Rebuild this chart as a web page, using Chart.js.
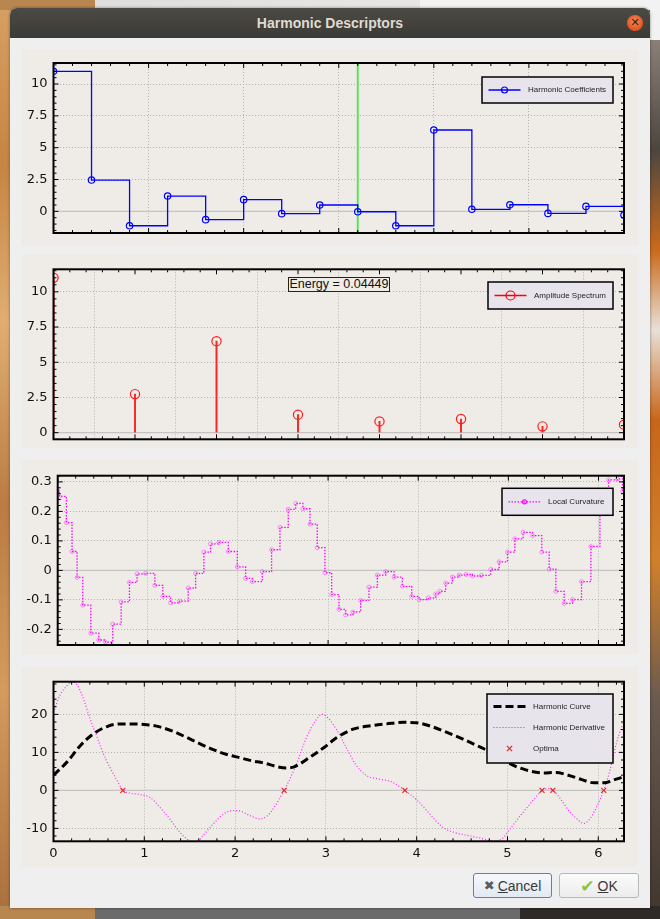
<!DOCTYPE html>
<html lang="en">
<head>
<meta charset="UTF-8">
<title>Harmonic Descriptors</title>
<script src="https://cdn.jsdelivr.net/npm/chart.js"></script>
<style>
  body { margin:0; width:660px; height:919px; position:relative; overflow:hidden; background:#6a5a4c; font-family:"Liberation Sans", Arial, sans-serif; }
  .abs { position:absolute; }
  #deskLeft { left:0; top:0; width:11px; height:919px; background:linear-gradient(180deg,#d7a063 0%,#c58543 18%,#e0ae72 35%,#b97c42 55%,#d39b5e 75%,#a86f3d 100%); }
  #deskTop { left:0; top:0; width:660px; height:10px; background:linear-gradient(90deg,#b8864f 0,#b8864f 95px,#dedede 95px,#e6e6e6 420px,#f3f3f3 420px); }
  #deskRight { left:650px; top:0; width:10px; height:919px; background:linear-gradient(180deg,#f2f2f2 0,#f2f2f2 40px,#8a8078 40px,#4c4640 150px,#c96a1c 250px,#e8e0d8 330px,#c7661a 420px,#d0802c 560px,#6a5a50 700px,#40362e 919px); }
  #deskBottom { left:0; top:906px; width:660px; height:13px; background:linear-gradient(90deg,#b8864f 0,#b8864f 95px,#6b6b6b 95px,#6b6b6b 520px,#2e2a28 520px); }
  #dialog { left:10px; top:8px; width:640px; height:900px; background:#efefef; border-radius:7px 7px 0 0; box-shadow:0 0 3px rgba(0,0,0,0.45); }
  #titlebar { left:10px; top:8px; width:640px; height:30px; border-radius:7px 7px 0 0; background:linear-gradient(#4b4a45,#3b3a36); color:#dfdbd2; font:bold 14px "Liberation Sans", Arial, sans-serif; text-align:center; line-height:30px; }
  #closeBtn { left:627px; top:15px; width:16px; height:16px; border-radius:50%; background:radial-gradient(circle at 50% 40%,#f58a5c,#e1541f 70%,#c7461a); color:#3a1a0a; font:bold 11px "DejaVu Sans", sans-serif; line-height:16px; text-align:center; }
  .panel { left:21px; width:617px; background:#efece8; }
  .panel canvas { display:block; }
  #energy { left:288px; top:277px; width:102px; height:15px; box-sizing:border-box; border:1px solid #222; background:#efece8; font:12.5px "Liberation Sans", Arial, sans-serif; color:#111; text-align:center; line-height:13px; }
  .btn { position:absolute; top:873px; height:25px; box-sizing:border-box; border:1px solid #b8b8b8; border-radius:3px; background:linear-gradient(#fbfbfb,#ececec); font:14px "Liberation Sans", Arial, sans-serif; color:#3a3a3a; display:flex; align-items:center; justify-content:center; }
  .btn .ico { margin-right:3px; font-family:"DejaVu Sans", sans-serif; }
</style>
</head>
<body>
<div class="abs" id="deskLeft"></div>
<div class="abs" id="deskTop"></div>
<div class="abs" id="deskRight"></div>
<div class="abs" id="deskBottom"></div>
<div class="abs" id="dialog"></div>
<div class="abs" id="titlebar">Harmonic Descriptors</div>
<div class="abs" id="closeBtn">&#x2715;</div>

<div class="abs panel" style="top:49px;height:197px"><canvas id="coefChart" width="617" height="197"></canvas></div>
<div class="abs panel" style="top:255px;height:193px"><canvas id="ampChart" width="617" height="193"></canvas></div>
<div class="abs panel" style="top:460px;height:195px"><canvas id="curvChart" width="617" height="195"></canvas></div>
<div class="abs panel" style="top:667px;height:200px"><canvas id="harmChart" width="617" height="200"></canvas></div>
<div class="abs" id="energy"></div>

<div class="btn" style="left:473px;width:79px;border-color:#5584b6;background:linear-gradient(#f6f8fb,#e2e9f2)"><span class="ico" style="color:#5c5c5c;font-size:13px">&#x2716;</span><u>C</u>ancel</div>
<div class="btn" style="left:559px;width:80px"><span class="ico" style="color:#8cc43c;font-size:17px">&#x2714;</span><u>O</u>K</div>

<script>
// harmonic coefficients (stepped)
const coefIndex = [0, 1, 2, 3, 4, 5, 6, 7, 8, 9, 10, 11, 12, 13, 14, 15];
const coefValues = [11.0, 2.46, -1.13, 1.2, -0.65, 0.92, -0.18, 0.5, -0.03, -1.13, 6.39, 0.16, 0.52, -0.16, 0.39, -0.29];
const selectedIndex = 8;

// amplitude spectrum
const ampIndex = [0, 1, 2, 3, 4, 5, 6, 7];
const ampValues = [11.0, 2.74, 6.5, 1.28, 0.8, 0.97, 0.45, 0.57];
const energyLabel = 'Energy = 0.04449';

// local curvature (step starts)
const curvX = [0, 0.019, 0.096, 0.159, 0.215, 0.278, 0.367, 0.456, 0.53, 0.611, 0.704, 0.796, 0.881, 0.974, 1.078,
  1.167, 1.252, 1.352, 1.448, 1.53, 1.622, 1.696, 1.789, 1.893, 1.993, 2.085, 2.159, 2.27, 2.373, 2.466,
  2.558, 2.64, 2.721, 2.799, 2.88, 2.965, 3.04, 3.121, 3.195, 3.276, 3.361, 3.454, 3.547, 3.639, 3.732,
  3.824, 3.928, 4.01, 4.113, 4.194, 4.239, 4.305, 4.38, 4.454, 4.53, 4.601, 4.70, 4.805, 4.898, 4.99,
  5.072, 5.164, 5.268, 5.371, 5.453, 5.527, 5.619, 5.712, 5.812, 5.916, 6.016, 6.112, 6.212, 6.268];
const curvY = [0.27, 0.251, 0.162, 0.064, -0.024, -0.118, -0.213, -0.236, -0.243, -0.182, -0.107, -0.041, -0.012, -0.01, -0.051,
  -0.088, -0.11, -0.104, -0.06, -0.01, 0.062, 0.09, 0.095, 0.064, 0.012, -0.027, -0.038, -0.004, 0.07, 0.146,
  0.207, 0.227, 0.209, 0.157, 0.077, -0.008, -0.082, -0.132, -0.151, -0.141, -0.102, -0.057, -0.016, -0.004, -0.023,
  -0.054, -0.088, -0.099, -0.093, -0.08, -0.071, -0.043, -0.023, -0.016, -0.014, -0.019, -0.017, 0.003, 0.029, 0.062,
  0.107, 0.129, 0.118, 0.062, 0.004, -0.071, -0.112, -0.099, -0.038, 0.081, 0.214, 0.307, 0.31, 0.268];

// harmonic curve, its derivative and the optima
const curveX = [0, 0.15, 0.3, 0.44, 0.59, 0.73, 0.88, 1.03, 1.17, 1.32, 1.47, 1.61, 1.76, 1.9, 2.05,
  2.2, 2.3, 2.47, 2.56, 2.65, 2.84, 2.98, 3.12, 3.3, 3.49, 3.67, 3.86, 4.0, 4.14, 4.32,
  4.51, 4.69, 4.88, 5.02, 5.2, 5.39, 5.53, 5.67, 5.81, 5.95, 6.09, 6.19, 6.283];
const curveY = [4.0, 7.5, 11.9, 14.9, 16.8, 17.5, 17.5, 17.3, 16.7, 15.5, 13.9, 12.3, 10.7, 9.5, 8.6,
  7.7, 7.3, 6.2, 5.9, 6.2, 9.0, 11.3, 13.9, 16.1, 17.0, 17.5, 17.9, 17.8, 17.0, 15.4,
  13.5, 11.5, 9.3, 7.1, 5.4, 4.6, 4.7, 4.0, 2.9, 2.0, 2.1, 2.9, 3.6];
const derivX = [0, 0.07, 0.15, 0.2, 0.26, 0.33, 0.4, 0.48, 0.55, 0.62, 0.7, 0.764, 0.84, 0.95, 1.06,
  1.17, 1.28, 1.39, 1.5, 1.57, 1.65, 1.76, 1.87, 1.97, 2.05, 2.16, 2.27, 2.35, 2.43, 2.54,
  2.65, 2.79, 2.89, 2.96, 3.03, 3.12, 3.21, 3.32, 3.44, 3.58, 3.72, 3.81, 3.87, 4.0, 4.14,
  4.28, 4.42, 4.55, 4.69, 4.83, 4.93, 5.02, 5.16, 5.3, 5.38, 5.44, 5.5, 5.58, 5.67, 5.77,
  5.84, 5.91, 6.0, 6.06, 6.13, 6.2, 6.26, 6.283];
const derivY = [20.5, 25, 27.6, 28.6, 27.8, 24.1, 19, 14, 9.6, 6.1, 2.6, 0, -0.7, -1.1, -1.8,
  -4.4, -7.5, -11, -13.3, -13.8, -11.8, -8.8, -6.3, -5.3, -5.4, -6.6, -7.5, -6.8, -4.5, 0,
  5.4, 14.1, 18.5, 20, 18.9, 15.9, 11.9, 7.1, 4, 3, 2.3, 1, 0, -2.5, -6.1,
  -9.6, -11.1, -11.8, -12.5, -13.3, -12.9, -10.4, -6.1, -2.1, 0, 0.5, 0, -2.1, -5.2, -7.6,
  -8.7, -7.4, -3.4, 0, 5.4, 12.4, 16.8, 18];
const optimaX = [0.764, 2.54, 3.87, 5.38, 5.5, 6.06];

const pts = (xs, ys) => xs.map((x, i) => ({ x: x, y: ys[i] }));
const fmt = v => String(+Number(v).toFixed(3));

document.getElementById('energy').textContent = energyLabel;

Chart.defaults.font.family = '"DejaVu Sans", sans-serif';
Chart.defaults.font.size = 12.5;
Chart.defaults.color = '#111';

function marker(ctx, style, x, y, r) {
  ctx.beginPath();
  if (style === 'crossRot') {
    const d = r * 0.75;
    ctx.moveTo(x - d, y - d); ctx.lineTo(x + d, y + d);
    ctx.moveTo(x - d, y + d); ctx.lineTo(x + d, y - d);
  } else {
    ctx.arc(x, y, r, 0, Math.PI * 2);
  }
  ctx.stroke();
}

// frame with inward ticks, zero line, legend box (qwt look)
function qwtFrame(cfg) {
  return {
    id: 'qwtFrame',
    beforeDatasetsDraw(chart) {
      const { ctx, chartArea: a, scales: { x, y } } = chart;
      ctx.save();
      const y0 = y.getPixelForValue(0);
      ctx.strokeStyle = '#c4c4c4';
      ctx.lineWidth = 1.3;
      ctx.beginPath(); ctx.moveTo(a.left, y0); ctx.lineTo(a.right, y0); ctx.stroke();
      if (cfg.vline !== undefined) {
        const vx = x.getPixelForValue(cfg.vline);
        ctx.strokeStyle = '#5ce35c';
        ctx.lineWidth = 2;
        ctx.beginPath(); ctx.moveTo(vx, a.top); ctx.lineTo(vx, a.bottom); ctx.stroke();
      }
      ctx.restore();
    },
    afterDatasetsDraw(chart) {
      const { ctx, chartArea: a, scales: { x, y } } = chart;
      ctx.save();
      ctx.strokeStyle = '#000';
      ctx.lineWidth = 1;
      const marks = (scale, step, major, fn) => {
        for (let k = Math.ceil(scale.min / step - 1e-9); k * step <= scale.max + 1e-9; k++) {
          const v = k * step;
          const isMajor = Math.abs(v / major - Math.round(v / major)) < 1e-6;
          fn(scale.getPixelForValue(v), isMajor ? 5 : 3);
        }
      };
      ctx.beginPath();
      marks(x, cfg.xMinor, cfg.xMajor, (p, l) => {
        ctx.moveTo(p, a.top); ctx.lineTo(p, a.top + l);
        ctx.moveTo(p, a.bottom); ctx.lineTo(p, a.bottom - l);
      });
      marks(y, cfg.yMinor, cfg.yMajor, (p, l) => {
        ctx.moveTo(a.left, p); ctx.lineTo(a.left + l, p);
        ctx.moveTo(a.right, p); ctx.lineTo(a.right - l, p);
      });
      ctx.stroke();
      ctx.lineWidth = 2;
      ctx.strokeRect(a.left, a.top, a.right - a.left, a.bottom - a.top);

      const L = cfg.legend;
      const bx = a.right - 11 - L.w, by = a.top + L.top;
      ctx.fillStyle = '#e8e4ec';
      ctx.fillRect(bx, by, L.w, L.h);
      ctx.lineWidth = 1.5;
      ctx.strokeStyle = '#000';
      ctx.strokeRect(bx, by, L.w, L.h);
      ctx.font = '8px "Liberation Sans", Arial, sans-serif';
      ctx.textBaseline = 'middle';
      ctx.textAlign = 'left';
      L.items.forEach((it, i) => {
        const ry = by + (L.items.length > 1 ? 12.5 + 21 * i : L.h / 2);
        const x0 = bx + 6.5, x1 = x0 + 32;
        ctx.strokeStyle = it.color;
        if (it.width) {
          ctx.setLineDash(it.dash || []);
          ctx.lineWidth = it.width;
          ctx.beginPath(); ctx.moveTo(x0, ry); ctx.lineTo(x1, ry); ctx.stroke();
          ctx.setLineDash([]);
        }
        if (it.marker) {
          ctx.lineWidth = 1.2;
          marker(ctx, it.marker.style, (x0 + x1) / 2, ry, it.marker.r);
        }
        ctx.fillStyle = '#1e1e1e';
        ctx.fillText(it.label, bx + 46, ry);
      });
      ctx.restore();
    }
  };
}

function makeOptions(c) {
  return {
    responsive: false,
    animation: false,
    layout: { autoPadding: false, padding: { left: 0, right: 14, top: c.padT, bottom: c.padB } },
    plugins: { legend: { display: false }, tooltip: { enabled: false } },
    scales: {
      x: {
        type: 'linear', min: c.xMin, max: c.xMax, offset: false,
        ticks: { display: !!c.xLabels, stepSize: c.xStep, includeBounds: false, padding: 5, maxRotation: 0, autoSkip: false, font: { size: 13 }, callback: fmt },
        grid: { color: '#b3b3b3', drawTicks: false },
        border: { display: false, dash: [1, 2] },
        afterFit: s => { s.height = c.xH; s.paddingLeft = 0; s.paddingRight = 0; }
      },
      y: {
        type: 'linear', min: c.yMin, max: c.yMax,
        ticks: { stepSize: c.yStep, includeBounds: false, padding: 6, font: { size: 13 }, callback: fmt },
        grid: { color: '#b3b3b3', drawTicks: false },
        border: { display: false, dash: [1, 2] },
        afterFit: s => { s.width = c.yW; s.paddingTop = 0; s.paddingBottom = 0; }
      }
    }
  };
}

// 1. harmonic coefficients
new Chart(document.getElementById('coefChart'), {
  type: 'line',
  data: {
    datasets: [{
      data: pts(coefIndex, coefValues),
      stepped: true,
      borderColor: '#0000ff', borderWidth: 1.3,
      pointRadius: 3.2, pointBorderWidth: 1.2, pointBorderColor: '#0000ff', pointBackgroundColor: 'rgba(0,0,0,0)'
    }]
  },
  options: makeOptions({ xMin: 0, xMax: 15, xStep: 2.5, xH: 0, yMin: -1.7, yMax: 11.65, yStep: 2.5, yW: 32.5, padT: 14, padB: 13 }),
  plugins: [qwtFrame({
    xMajor: 2.5, xMinor: 0.5, yMajor: 2.5, yMinor: 0.5, vline: selectedIndex,
    legend: { top: 14, w: 131, h: 26, items: [{ label: 'Harmonic Coefficients', color: '#0000ff', width: 1.3, marker: { style: 'circle', r: 3 } }] }
  })]
});

// 2. amplitude spectrum (stems)
new Chart(document.getElementById('ampChart'), {
  type: 'line',
  data: {
    datasets: [{
      type: 'line', data: pts(ampIndex, ampValues), showLine: false,
      pointRadius: 4.6, pointBorderWidth: 1.2, pointBorderColor: '#ff1a1a', pointBackgroundColor: 'rgba(0,0,0,0)'
    }, {
      type: 'bar', data: pts(ampIndex, ampValues),
      backgroundColor: '#ff2424', barThickness: 1.3, grouped: false
    }]
  },
  options: makeOptions({ xMin: 0, xMax: 7, xStep: 1, xH: 0, yMin: -0.47, yMax: 11.6, yStep: 2.5, yW: 32.5, padT: 14.3, padB: 8.7 }),
  plugins: [qwtFrame({
    xMajor: 1, xMinor: 0.2, yMajor: 2.5, yMinor: 0.5,
    legend: { top: 12.7, w: 125, h: 27, items: [{ label: 'Amplitude Spectrum', color: '#ff0000', width: 1.3, marker: { style: 'circle', r: 4.5 } }] }
  })]
});

// 3. local curvature
new Chart(document.getElementById('curvChart'), {
  type: 'line',
  data: {
    datasets: [{
      data: pts(curvX, curvY),
      stepped: true,
      borderColor: '#ff00ff', borderWidth: 1.3, borderDash: [1.5, 1.5],
      pointRadius: 2, pointBorderWidth: 1, pointBorderColor: 'rgba(255,60,255,0.55)', pointBackgroundColor: 'rgba(0,0,0,0)'
    }]
  },
  options: makeOptions({ xMin: 0, xMax: 6.2832, xStep: 1, xH: 0, yMin: -0.253, yMax: 0.321, yStep: 0.1, yW: 36.7, padT: 15.7, padB: 10 }),
  plugins: [qwtFrame({
    xMajor: 1, xMinor: 0.2, yMajor: 0.1, yMinor: 0.02,
    legend: { top: 12.6, w: 111, h: 27, items: [{ label: 'Local Curvature', color: '#ff00ff', width: 1.3, dash: [1.5, 1.5], marker: { style: 'circle', r: 2 } }] }
  })]
});

// 4. harmonic curve, derivative, optima
new Chart(document.getElementById('harmChart'), {
  type: 'line',
  data: {
    datasets: [{
      data: optimaX.map(x => ({ x: x, y: 0 })), showLine: false,
      pointStyle: 'crossRot', pointRadius: 3.5, pointBorderWidth: 1.2, pointBorderColor: '#ee2222'
    }, {
      data: pts(curveX, curveY), cubicInterpolationMode: 'monotone',
      borderColor: '#000', borderWidth: 3, borderDash: [8, 4], pointRadius: 0
    }, {
      data: pts(derivX, derivY), cubicInterpolationMode: 'monotone',
      borderColor: '#ff22ff', borderWidth: 1.2, borderDash: [1, 2], pointRadius: 0
    }]
  },
  options: makeOptions({ xMin: 0, xMax: 6.2832, xStep: 1, xLabels: true, xH: 25.7, yMin: -13.4, yMax: 28.6, yStep: 10, yW: 32.5, padT: 14.7, padB: 0 }),
  plugins: [qwtFrame({
    xMajor: 1, xMinor: 0.2, yMajor: 10, yMinor: 2,
    legend: { top: 12.3, w: 126, h: 69, items: [
      { label: 'Harmonic Curve', color: '#000', width: 3, dash: [8, 4] },
      { label: 'Harmonic Derivative', color: '#ff00ff', width: 1, dash: [1, 2] },
      { label: 'Optima', color: '#ee2222', marker: { style: 'crossRot', r: 3.5 } }
    ] }
  })]
});
</script>
</body>
</html>
